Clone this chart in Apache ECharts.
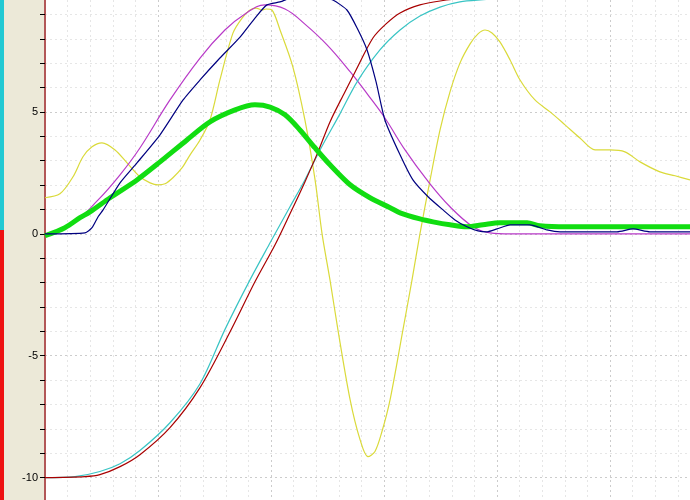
<!DOCTYPE html>
<html><head><meta charset="utf-8">
<script src="https://cdn.jsdelivr.net/npm/echarts@6/dist/echarts.min.js"></script>
<style>
html,body{margin:0;padding:0;background:#fff;}
#wrap{position:relative;width:690px;height:500px;overflow:hidden;}
#beige{position:absolute;left:0;top:0;width:45px;height:500px;background:#ECE9D8;}
#cy{position:absolute;left:0;top:0;width:4px;height:230px;background:#22C9D3;}
#rd{position:absolute;left:0;top:230px;width:4px;height:270px;background:#EE1111;}
#chart{position:absolute;left:0;top:-10px;width:690px;height:512px;}
</style></head>
<body><div id="wrap"><div id="beige"></div><div id="cy"></div><div id="rd"></div><div id="chart"></div></div>
<script>
// x in grid units (5 units per major vertical grid line), y in chart units
const yellowX = [0,0.66,1.24,1.68,2.08,2.52,3.10,3.63,4.20,4.65,5.00,5.31,5.66,6.06,6.42,6.86,7.30,7.74,8.32,8.72,9.07,9.34,9.60,9.78,10.04,10.40,10.97,11.50,11.95,12.26,12.61,12.96,13.50,13.94,14.29,14.60,14.91,15.27,15.84,16.24,16.59,17.04,17.48,17.92,18.36,18.81,19.16,19.47,19.78,20.13,20.58,21.02,21.68,22.35,23.01,23.67,24.34,25.00,25.66,26.33,27.21,27.88,28.54];
const yellowY = [1.48,1.64,2.34,3.16,3.57,3.73,3.44,2.91,2.34,2.09,2.01,2.05,2.30,2.70,3.24,3.85,4.67,6.31,8.24,8.85,9.18,9.26,9.18,9.22,9.18,8.36,6.84,4.67,2.21,0,-1.89,-3.93,-6.80,-8.44,-9.14,-8.93,-8.11,-6.80,-3.93,-1.89,0,2.21,4.26,5.82,7.00,7.79,8.20,8.36,8.24,7.87,7.13,6.31,5.49,5.00,4.47,3.93,3.44,3.44,3.36,2.95,2.54,2.38,2.21];

const magentaX = [0,1.11,2.35,3.32,4.20,5.53,6.86,7.96,8.85,9.73,10.62,11.50,12.48,13.50,14.29,15.04,15.93,16.90,17.92,18.94,19.69,20.58,28.54];
const magentaY = [0,0.33,1.39,2.42,3.52,5.49,7.21,8.36,9.02,9.39,9.22,8.60,7.75,6.65,5.70,4.75,3.44,2.21,1.11,0.29,0.04,0,0];

const blueX = [0,1.77,2.08,2.35,2.57,3.32,4.07,5.09,6.11,6.86,7.74,8.63,9.29,9.82,10.40,10.84,11.50,12.17,12.74,13.36,13.81,14.25,14.65,15.04,15.71,16.28,16.95,17.61,18.14,18.67,19.16,19.56,20.00,20.58,21.46,22.21,22.79,24.56,25.31,26.02,26.77,28.54];
const blueY = [0,0.04,0.25,0.70,0.98,2.09,2.91,4.06,5.49,6.31,7.21,8.07,8.85,9.39,9.51,9.67,9.84,9.75,9.59,9.18,8.44,7.54,6.23,4.67,3.24,2.21,1.52,0.98,0.57,0.29,0.12,0.08,0.20,0.37,0.37,0.16,0.08,0.08,0.08,0.20,0.08,0.08];

const greenX = [0,0.88,1.55,1.99,2.88,4.07,5.09,6.28,7.30,8.41,9.29,9.96,10.62,11.28,11.95,12.61,13.50,14.38,15.27,15.71,16.59,17.17,17.92,18.67,19.38,20.13,21.33,21.90,23.10,24.56,28.54];
const greenY = [-0.08,0.25,0.66,0.90,1.48,2.21,2.95,3.85,4.59,5.08,5.29,5.20,4.88,4.26,3.52,2.83,2.01,1.48,1.07,0.86,0.61,0.49,0.37,0.29,0.37,0.45,0.45,0.33,0.29,0.29,0.29];

const redX = [0,1.77,2.43,3.32,4.20,5.53,6.86,8.19,9.29,10.18,10.84,11.50,12.08,12.61,13.27,13.72,14.51,15.09,15.71,16.59,17.48,18.36,28.54];
const redY = [-10,-9.96,-9.88,-9.55,-9.06,-7.95,-6.31,-4.02,-1.97,-0.45,0.82,2.13,3.36,4.59,5.82,6.64,8.03,8.61,9.06,9.39,9.55,9.63,9.63];

const cyanX = [0,1.33,2.43,3.32,4.20,5.53,6.86,7.96,9.07,9.96,10.84,11.50,12.17,13.05,13.81,14.82,15.71,16.59,17.48,18.36,19.25,20.13,28.54];
const cyanY = [-10,-9.96,-9.75,-9.43,-8.89,-7.75,-6.15,-3.93,-1.89,-0.37,1.11,2.21,3.44,4.92,6.23,7.54,8.36,8.93,9.30,9.51,9.59,9.63,9.63];

const yTickLabels = ['-10','-5','0','5'];

function pairs(xs, ys){ return xs.map((x,i)=>[x, ys[i]]); }

const chart = echarts.init(document.getElementById('chart'), null, {renderer:'canvas'});
const light = '#e6e6e6', dark = '#cccccc';
const mk = (name, xs, ys, color, w, smooth) => ({
  name, type:'line', data: pairs(xs, ys), showSymbol:false, symbol:'none',
  smooth: smooth, lineStyle:{color, width:w}, itemStyle:{color}, animation:false
});
chart.setOption({
  animation:false,
  backgroundColor:'transparent',
  grid:{left:45, right:0, top:0, bottom:0, show:true, backgroundColor:'#ffffff', borderWidth:0},
  xAxis:{type:'value', min:0, max:28.54, interval:1,
    axisLine:{show:false}, axisTick:{show:false}, axisLabel:{show:false},
    splitLine:{show:true, lineStyle:{type:[2,3], width:1, color:[dark, light, light, light, light]}}},
  yAxis:{type:'value', min:-11, max:10, interval:1,
    axisLine:{show:true, onZero:false, lineStyle:{color:'#B25757', width:2}},
    axisTick:{show:true, length:5, lineStyle:{color:'#000', width:1}},
    axisLabel:{margin:7, color:'#000', fontFamily:'Liberation Sans', fontSize:11,
      formatter: v => (yTickLabels.indexOf(String(v)) >= 0 ? String(v) : '')},
    splitLine:{show:true, lineStyle:{type:[2,3], width:1, color:[light, dark, light, light, light]}}},
  series:[
    mk('yellow', yellowX, yellowY, '#DADA3A', 1.2, 0.3),
    mk('magenta', magentaX, magentaY, '#B83AC8', 1.2, 0.4),
    mk('cyan', cyanX, cyanY, '#38C4C4', 1.2, 0.3),
    mk('red', redX, redY, '#A80000', 1.2, 0.3),
    mk('green', greenX, greenY, '#11DD11', 5, 0.3),
    mk('blue', blueX, blueY, '#000080', 1.2, 0.2)
  ]
});
</script></body></html>
